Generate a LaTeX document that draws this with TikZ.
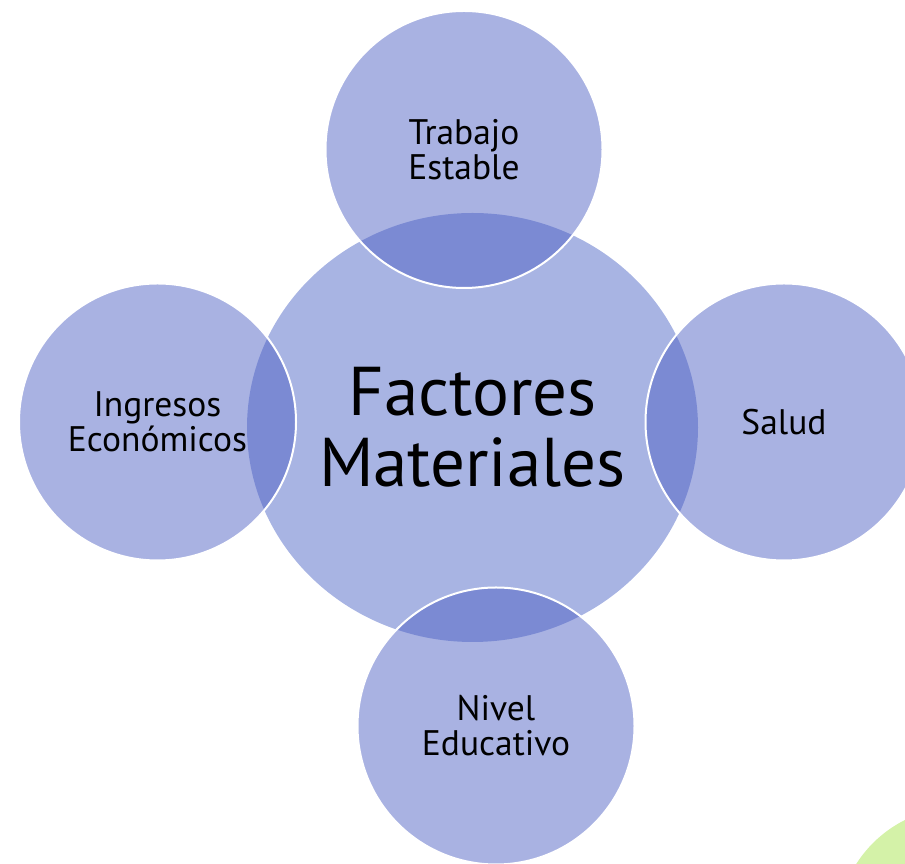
\documentclass[tikz,border=0pt]{standalone}
\usepackage{fontspec}
\setmainfont{PT Sans}
\usepackage{tikz}
\usetikzlibrary{shapes.geometric}
\definecolor{corefill}{RGB}{168,180,227}
\definecolor{ringfill}{RGB}{75,94,195}
\definecolor{cornergreen}{RGB}{212,242,168}
\begin{document}
\begin{tikzpicture}[x=1pt,y=1pt]
			\tikzstyle{core} = [ellipse, fill=corefill, inner sep=0pt, align=center, minimum width=451pt, minimum height=429pt, font=\fontsize{69}{71}\selectfont];
			\tikzstyle{ring} = [circle, fill=ringfill, fill opacity=0.48, text opacity=1, draw=white, draw opacity=1, line width=2pt, inner sep=0pt, align=center, minimum size=277pt, font=\fontsize{35.5}{35}\selectfont];
			\useasboundingbox (0,0) rectangle (905,864);
			\begin{scope}
				\clip (0,0) rectangle (905,864);
				\fill [cornergreen] (960,-66) circle (123);
			\end{scope}
			\node (factores) [core] at (472.5,436.5) {Factores\\Materiales};
			\node (trabajo) [ring, above of=factores, node distance=278pt, xshift=-8.5pt] {Trabajo\\Estable};
			\node (ingresos) [ring, left of=factores, node distance=315pt, yshift=5.5pt] {Ingresos\\Económicos};
			\node (salud) [ring, right of=factores, node distance=311.5pt, yshift=5.5pt] {Salud};
			\node (nivel) [ring, below of=factores, node distance=298.5pt, xshift=23.5pt] {Nivel\\Educativo};
		\end{tikzpicture}
\end{document}
